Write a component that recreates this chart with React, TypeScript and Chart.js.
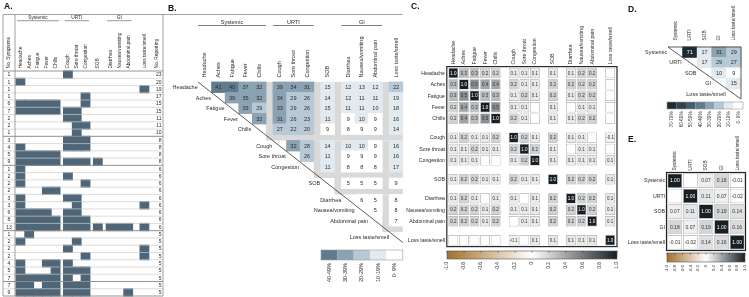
import React, { useEffect, useRef } from 'react';
import { Chart, registerables } from 'chart.js';

Chart.register(...registerables);

const CW = 749;
const CH = 297;
const FONT = '"Liberation Sans", Arial, Helvetica, sans-serif';
const INK = '#2b2b2b';

// ---------- shared categories ----------
const SYMPTOMS = ['Headache', 'Aches', 'Fatigue', 'Fever', 'Chills', 'Cough', 'Sore throat', 'Congestion', 'SOB', 'Diarrhea', 'Nausea/vomiting', 'Abdominal pain', 'Loss taste/smell'];
const SYMPTOM_GROUP = [0, 0, 0, 0, 0, 1, 1, 1, 2, 3, 3, 3, 4];
const GROUPS = ['Systemic', 'URTI', 'SOB', 'GI', 'Loss taste/smell'];
const HEADED_GROUPS = [0, 1, 3];

// ---------- Panel A: symptom combinations (H A Fa Fe Ch | Co So Cg | SOB | Di Na Ab | Loss) ----------
const A_COMBOS = [
  '00000 100 0 000 0',
  '10000 000 0 000 0',
  '00000 000 0 000 1',
  '00000 001 0 000 0',
  '11111 001 0 000 0',
  '11111 110 0 000 0',
  '00000 110 0 000 0',
  '00000 011 0 000 0',
  '00000 010 0 000 0',
  '00000 111 0 000 0',
  '10000 111 0 000 0',
  '11111 000 0 000 0',
  '11111 111 1 000 0',
  '10000 000 0 000 0',
  '10000 100 0 000 0',
  '10000 001 0 000 0',
  '00011 000 0 000 0',
  '10000 110 0 000 0',
  '10000 010 0 000 1',
  '11110 110 0 000 0',
  '11111 111 0 000 0',
  '11111 111 1 111 1',
  '01000 000 0 000 0',
  '10000 010 0 000 0',
  '00000 100 0 000 1',
  '00000 001 0 000 1',
  '10011 100 0 000 0',
  '10001 111 0 000 0',
  '11111 101 0 000 0',
  '11011 111 0 000 0',
  '11111 111 0 001 0',
];
const A_N_SYMPTOMS = [1, 1, 1, 1, 6, 7, 2, 2, 1, 3, 4, 5, 9, 1, 2, 2, 2, 3, 3, 6, 8, 13, 1, 2, 2, 2, 4, 5, 7, 7, 9];
const A_N_REPORTING = [23, 20, 19, 17, 15, 15, 11, 11, 10, 8, 8, 8, 8, 6, 6, 6, 6, 6, 6, 6, 6, 6, 5, 5, 5, 5, 5, 5, 5, 5, 5];

// ---------- Panel B: co-occurrence (upper triangle, row i vs columns i+1..) ----------
const B_COUNTS = [
  [41, 40, 37, 32, 39, 34, 31, 15, 12, 13, 12, 22],
  [39, 35, 32, 34, 29, 26, 14, 12, 11, 11, 19],
  [33, 29, 33, 29, 26, 15, 11, 11, 10, 18],
  [32, 31, 26, 23, 11, 9, 10, 9, 16],
  [27, 22, 20, 9, 8, 9, 9, 14],
  [32, 28, 14, 10, 10, 9, 16],
  [26, 11, 9, 9, 9, 16],
  [11, 8, 8, 8, 17],
  [5, 5, 5, 9],
  [6, 5, 8],
  [5, 8],
  [7],
];
const B_LEGEND = ['40-49%', '30-39%', '20-29%', '10-19%', '0- 9%'];

// ---------- Panel C: correlations between symptoms (0 = not shown) ----------
const C_CORR = [
  [1.0, 0.3, 0.3, 0.2, 0.2, 0.1, 0.1, 0.1, 0.1, 0.1, 0.2, 0.2, 0],
  [0.3, 1.0, 0.5, 0.4, 0.4, 0.2, 0.1, 0.1, 0.2, 0.2, 0.2, 0.2, 0],
  [0.3, 0.5, 1.0, 0.3, 0.3, 0.1, 0.2, 0.1, 0.2, 0.1, 0.2, 0.2, 0],
  [0.2, 0.4, 0.3, 1.0, 0.5, 0.1, 0.1, 0, 0.1, 0, 0.1, 0.1, 0],
  [0.2, 0.4, 0.3, 0.5, 1.0, 0.2, 0.1, 0, 0.1, 0.1, 0.2, 0.2, 0],
  [0.1, 0.2, 0.1, 0.1, 0.2, 1.0, 0.2, 0.1, 0.2, 0.1, 0.1, 0, -0.1],
  [0.1, 0.1, 0.2, 0.1, 0.1, 0.2, 1.0, 0.2, 0.1, 0, 0.1, 0.1, 0],
  [0.1, 0.1, 0.1, 0, 0, 0.1, 0.2, 1.0, 0.1, 0.1, 0.1, 0.1, 0.1],
  [0.1, 0.2, 0.2, 0.1, 0.1, 0.2, 0.1, 0.1, 1.0, 0.2, 0.2, 0.2, 0.1],
  [0.1, 0.2, 0.1, 0, 0.1, 0.1, 0, 0.1, 0.2, 1.0, 0.2, 0.2, 0.1],
  [0.2, 0.2, 0.2, 0.1, 0.2, 0.1, 0.1, 0.1, 0.2, 0.2, 1.0, 0.2, 0.1],
  [0.2, 0.2, 0.2, 0.1, 0.2, 0, 0.1, 0.1, 0.2, 0.2, 0.2, 1.0, 0.1],
  [0, 0, 0, 0, 0, -0.1, 0, 0.1, 0.1, 0.1, 0.1, 0.1, 1.0],
];

// ---------- Panel D: co-occurrence between symptom groups ----------
const D_COUNTS = [
  [71, 17, 31, 29],
  [17, 29, 27],
  [10, 9],
  [15],
];
const D_LEGEND = ['70-79%', '60-69%', '50-59%', '40-49%', '30-39%', '20-29%', '10-19%', '0- 9%'];

// ---------- Panel E: correlations between symptom groups (null = not shown) ----------
const E_CORR: (number | null)[][] = [
  [1.0, null, 0.07, 0.18, -0.01],
  [null, 1.0, 0.11, 0.07, -0.02],
  [0.07, 0.11, 1.0, 0.19, 0.14],
  [0.18, 0.07, 0.19, 1.0, 0.16],
  [-0.01, -0.02, 0.14, 0.16, 1.0],
];

const CORR_TICKS = ['-1.0', '-0.8', '-0.6', '-0.4', '-0.2', '0', '0.2', '0.4', '0.6', '0.8', '1.0'];

// ---------- styles ----------
const BIN_COLORS = ['#ffffff', '#e2eaef', '#b7c9d5', '#8aa2b2', '#5f7b8d', '#475c69', '#31424c', '#1d2a32'];
const binColor = (pct: number) => BIN_COLORS[Math.max(0, Math.min(7, Math.floor(pct / 10)))];
const A_BAR = '#4e6677';
const BAND = '#d9d9d9';
const POS_END = [22, 31, 36];
const NEG_END = [163, 112, 42];
function corrColor(v: number) {
  const t = Math.min(1, Math.abs(v));
  const e = v >= 0 ? POS_END : NEG_END;
  const c = e.map((k) => Math.round(255 + (k - 255) * t));
  return `rgb(${c[0]},${c[1]},${c[2]})`;
}

// ---------- drawing helpers ----------
function txt(ctx: any, s: string, x: number, y: number, size: number, align: string = 'center', color: string = INK, bold = false) {
  ctx.font = `${bold ? 'bold ' : ''}${size}px ${FONT}`;
  ctx.fillStyle = color;
  ctx.textAlign = align;
  ctx.textBaseline = 'middle';
  ctx.fillText(s, x, y);
}
function vtxt(ctx: any, s: string, x: number, y: number, size: number, align: string, color: string = INK) {
  ctx.save();
  ctx.translate(x, y);
  ctx.rotate(-Math.PI / 2);
  txt(ctx, s, 0, 0, size, align, color);
  ctx.restore();
}
function seg(ctx: any, x0: number, y0: number, x1: number, y1: number, color: string, w: number) {
  ctx.beginPath();
  ctx.moveTo(x0, y0);
  ctx.lineTo(x1, y1);
  ctx.strokeStyle = color;
  ctx.lineWidth = w;
  ctx.stroke();
}
function title(ctx: any, s: string, x: number, y: number) {
  txt(ctx, s, x, y, 8.5, 'left', '#111', true);
}
function colorbar(ctx: any, x0: number, x1: number, y0: number, y1: number, size: number) {
  const grd = ctx.createLinearGradient(x0, 0, x1, 0);
  for (let k = 0; k <= 20; k++) grd.addColorStop(k / 20, corrColor(-1 + k / 10));
  ctx.fillStyle = grd;
  ctx.fillRect(x0, y0, x1 - x0, y1 - y0);
  ctx.strokeStyle = '#555';
  ctx.lineWidth = 0.6;
  ctx.strokeRect(x0, y0, x1 - x0, y1 - y0);
  CORR_TICKS.forEach((s, i) => {
    const x = x0 + ((x1 - x0) * i) / (CORR_TICKS.length - 1);
    seg(ctx, x, y0, x, y0 + 1.6, '#333', 0.6);
    vtxt(ctx, s, x, y1 + 3, size, 'right');
  });
}
function membersOf(gi: number) {
  return SYMPTOMS.map((_, i) => i).filter((i) => SYMPTOM_GROUP[i] === gi);
}

// ---------- generic matrix chart ----------
type Cell = { x: [number, number]; y: number; fill: string; label?: string; ink?: string };
type Geo = { ctx: any; px: (u: number) => number; py: (u: number) => number; area: any };
type Spec = {
  area: [number, number, number, number];
  xRange: [number, number];
  yRange: [number, number];
  cells: Cell[];
  barPx: number;
  border?: [string, number];
  inflate?: number;
  fontPx?: number;
  under?: (g: Geo) => void;
  over?: (g: Geo) => void;
};

function geo(chart: any): Geo {
  const xs = chart.scales.x;
  const ys = chart.scales.y;
  return { ctx: chart.ctx, px: (u) => xs.getPixelForValue(u), py: (u) => ys.getPixelForValue(u), area: chart.chartArea };
}

function buildConfig(spec: Spec): any {
  const deco = {
    id: 'deco',
    beforeDatasetsDraw(chart: any) {
      if (spec.under) spec.under(geo(chart));
    },
    afterDatasetsDraw(chart: any) {
      const g = geo(chart);
      const meta = chart.getDatasetMeta(0);
      meta.data.forEach((el: any, i: number) => {
        const cell = spec.cells[i];
        if (!cell || !cell.label) return;
        txt(g.ctx, cell.label, (el.x + el.base) / 2, el.y + 0.3, spec.fontPx ?? 5, 'center', cell.ink ?? INK);
      });
      if (spec.over) spec.over(g);
    },
  };
  const [l, t, r, b] = spec.area;
  return {
    type: 'bar',
    data: {
      datasets: [
        {
          data: spec.cells,
          backgroundColor: (c: any) => (c.raw ? c.raw.fill : '#fff'),
          borderColor: spec.border ? spec.border[0] : 'rgba(0,0,0,0)',
          borderWidth: spec.border ? spec.border[1] : 0,
          borderSkipped: false,
          barThickness: spec.barPx,
          inflateAmount: spec.inflate ?? 0,
          clip: false,
        },
      ],
    },
    options: {
      indexAxis: 'y',
      animation: false,
      responsive: false,
      devicePixelRatio: 1,
      events: [],
      layout: { padding: { left: l, top: t, right: CW - r, bottom: CH - b } },
      plugins: { legend: { display: false }, tooltip: { enabled: false } },
      scales: {
        x: { type: 'linear', min: spec.xRange[0], max: spec.xRange[1], offset: false, display: false },
        y: { type: 'linear', min: spec.yRange[0], max: spec.yRange[1], offset: false, reverse: true, display: false },
      },
    },
    plugins: [deco],
  };
}

// ---------- Panel A ----------
const A_AREA: [number, number, number, number] = [3, 71, 163, 296];
const A_U = 8.8;
const A_X0 = 16;
const A_BLOCK_OFF = [0, 0.4, 0.8, 1.25, 2.09];
const A_STRONG = [9, 13, 22, 29];
const aPos = (c: number) => c + A_BLOCK_OFF[SYMPTOM_GROUP[c]];
const flags = (s: string) => s.replace(/\s/g, '').split('').map((ch) => ch === '1');

const specA: Spec = {
  area: A_AREA,
  xRange: [(A_AREA[0] - A_X0) / A_U, (A_AREA[2] - A_X0) / A_U],
  yRange: [-0.5, A_COMBOS.length - 0.5],
  barPx: (A_AREA[3] - A_AREA[1]) / A_COMBOS.length,
  inflate: 0.5,
  cells: A_COMBOS.flatMap((s, r) =>
    flags(s)
      .map((on, c) => (on ? ({ x: [aPos(c), aPos(c) + 1], y: r, fill: A_BAR } as Cell) : null))
      .filter((v) => v !== null) as Cell[]
  ),
  over: ({ ctx, px, py }) => {
    const L = A_AREA[0];
    const R = A_AREA[2];
    const T = 14.5;
    const HB = A_AREA[1];
    const B = A_AREA[3];
    for (let r = 1; r < A_COMBOS.length; r++) {
      const y = py(r - 0.5);
      const strong = A_STRONG.includes(r);
      seg(ctx, L, y, R, y, strong ? '#8f8f8f' : '#cdcdcd', strong ? 1 : 0.7);
    }
    seg(ctx, L, T, R, T, '#8a8a8a', 0.8);
    seg(ctx, L, HB, R, HB, '#8a8a8a', 0.9);
    seg(ctx, L, B, R, B, '#8a8a8a', 0.9);
    seg(ctx, L, T, L, B, '#8a8a8a', 0.8);
    seg(ctx, 15, T, 15, B, '#8a8a8a', 0.8);
    seg(ctx, R, T, R, B, '#8a8a8a', 0.8);
    HEADED_GROUPS.forEach((gi) => {
      const m = membersOf(gi);
      const x0 = px(aPos(m[0]));
      const x1 = px(aPos(m[m.length - 1]) + 1);
      txt(ctx, GROUPS[gi], (x0 + x1) / 2, 17.5, 4.8);
      seg(ctx, x0 + 1, 20.7, x1 - 1, 20.7, '#555', 0.6);
    });
    SYMPTOMS.forEach((s, c) => vtxt(ctx, s, px(aPos(c) + 0.5), 68.5, 4.8, 'left'));
    vtxt(ctx, 'No. Symptoms', 9, 68.5, 4.8, 'left');
    vtxt(ctx, 'No. Reporting', 157, 68.5, 4.8, 'left');
    A_N_SYMPTOMS.forEach((n, r) => txt(ctx, String(n), 9, py(r) + 0.3, 5));
    A_N_REPORTING.forEach((n, r) => txt(ctx, String(n), 161.5, py(r) + 0.3, 5, 'right'));
    title(ctx, 'A.', 4, 6.5);
  },
};

// ---------- Panel B ----------
const B_AREA: [number, number, number, number] = [198, 82, 402.8, 242.5];
const B_CG = 7 / 13.6;
const B_RG = 6 / 10.5;
const bCol = (c: number) => c + SYMPTOM_GROUP[c] * B_CG;
const bRow = (r: number) => r + SYMPTOM_GROUP[r] * B_RG;

const specB: Spec = {
  area: B_AREA,
  xRange: [-0.5, SYMPTOMS.length - 0.5 + 4 * B_CG],
  yRange: [-0.5, SYMPTOMS.length - 0.5 + 4 * B_RG],
  barPx: 10.5,
  inflate: 0.4,
  fontPx: 5.5,
  cells: B_COUNTS.flatMap((row, r) =>
    row.map((v, j) => {
      const c = r + 1 + j;
      return { x: [bCol(c) - 0.5, bCol(c) + 0.5], y: bRow(r), fill: binColor(v), label: String(v) } as Cell;
    })
  ),
  under: ({ ctx, px, py, area }) => {
    ctx.fillStyle = BAND;
    for (let gi = 0; gi < 4; gi++) {
      const m = membersOf(gi);
      const x0 = px(bCol(m[m.length - 1]) + 0.5);
      const y0 = py(bRow(m[0]) - 0.5);
      const y1 = py(bRow(m[m.length - 1]) + 0.5 + B_RG);
      ctx.fillRect(x0, y0, area.right - x0, y1 - y0);
    }
  },
  over: ({ ctx, px, py, area }) => {
    const { left, top, right, bottom } = area;
    seg(ctx, left, top, right, bottom, '#333', 0.8);
    const slope = (right - left) / (bottom - top);
    SYMPTOMS.forEach((s, r) => {
      const y = py(bRow(r));
      const xd = left + (y - top) * slope;
      txt(ctx, s, xd - 7, y + 0.3, 5.5, 'right');
      vtxt(ctx, s, px(bCol(r)), 77.5, 5.5, 'left');
    });
    HEADED_GROUPS.forEach((gi) => {
      const m = membersOf(gi);
      const x0 = px(bCol(m[0]) - 0.5);
      const x1 = px(bCol(m[m.length - 1]) + 0.5);
      txt(ctx, GROUPS[gi], (x0 + x1) / 2, 22, 5.5);
      seg(ctx, x0, 25.5, x1, 25.5, '#444', 0.7);
    });
    seg(ctx, 163, 14.5, right, 14.5, '#8a8a8a', 0.8);
    const lx0 = 321;
    const w = (right - lx0) / B_LEGEND.length;
    B_LEGEND.forEach((s, i) => {
      ctx.fillStyle = BIN_COLORS[4 - i];
      ctx.fillRect(lx0 + i * w, 250, w, 10);
      vtxt(ctx, s, lx0 + (i + 0.5) * w, 263, 5.5, 'right');
    });
    ctx.strokeStyle = '#999';
    ctx.lineWidth = 0.6;
    ctx.strokeRect(lx0, 250, right - lx0, 10);
    title(ctx, 'B.', 168, 8.5);
  },
};

// ---------- Panel C ----------
const C_AREA: [number, number, number, number] = [448, 67.3, 615.4, 245.9];
const C_CG = 7.4 / 10.6;
const C_RG = 7.6 / 11.4;
const cCol = (c: number) => c + SYMPTOM_GROUP[c] * C_CG;
const cRow = (r: number) => r + SYMPTOM_GROUP[r] * C_RG;

const specC: Spec = {
  area: C_AREA,
  xRange: [-0.5, SYMPTOMS.length - 0.5 + 4 * C_CG],
  yRange: [-0.5, SYMPTOMS.length - 0.5 + 4 * C_RG],
  barPx: 10.4,
  border: ['#a0a0a0', 0.7],
  fontPx: 4.5,
  cells: C_CORR.flatMap((row, r) =>
    row.map((v, c) => ({
      x: [cCol(c) - 0.46, cCol(c) + 0.46],
      y: cRow(r),
      fill: corrColor(v),
      label: v ? v.toFixed(1) : '',
      ink: v >= 0.7 ? '#ffffff' : '#333',
    }) as Cell)
  ),
  over: ({ ctx, px, py }) => {
    ctx.strokeStyle = '#2a2a2a';
    ctx.lineWidth = 1.2;
    ctx.strokeRect(446.8, 66.6, 617 - 446.8, 246.6 - 66.6);
    SYMPTOMS.forEach((s, i) => {
      txt(ctx, s, 445, py(cRow(i)) + 0.3, 5.2, 'right');
      vtxt(ctx, s, px(cCol(i)), 64.5, 5.2, 'left');
    });
    colorbar(ctx, 447, 617, 251, 259, 4.8);
    title(ctx, 'C.', 411, 7);
  },
};

// ---------- Panel D ----------
const D_AREA: [number, number, number, number] = [668, 47, 741, 99];
const specD: Spec = {
  area: D_AREA,
  xRange: [-0.5, GROUPS.length - 0.5],
  yRange: [-0.5, GROUPS.length - 0.5],
  barPx: 10.4,
  inflate: 0.4,
  fontPx: 5.5,
  cells: D_COUNTS.flatMap((row, r) =>
    row.map((v, j) => {
      const c = r + 1 + j;
      return { x: [c - 0.5, c + 0.5], y: r, fill: binColor(v), label: String(v), ink: v >= 50 ? '#ffffff' : INK } as Cell;
    })
  ),
  over: ({ ctx, px, py, area }) => {
    const { left, top, right, bottom } = area;
    ctx.beginPath();
    ctx.moveTo(left, top);
    ctx.lineTo(right, top);
    ctx.lineTo(right, bottom);
    ctx.closePath();
    ctx.strokeStyle = '#333';
    ctx.lineWidth = 0.8;
    ctx.stroke();
    const slope = (right - left) / (bottom - top);
    GROUPS.forEach((s, i) => {
      const y = py(i);
      const xd = left + (y - top) * slope;
      txt(ctx, s, xd - 8, y + 0.3, 5.5, 'right');
      vtxt(ctx, s, px(i), 40.5, 4.8, 'left');
    });
    const lx0 = 667;
    const lx1 = 743;
    const w = (lx1 - lx0) / D_LEGEND.length;
    D_LEGEND.forEach((s, i) => {
      ctx.fillStyle = BIN_COLORS[7 - i];
      ctx.fillRect(lx0 + i * w, 102, w, 7);
      vtxt(ctx, s, lx0 + (i + 0.5) * w, 111.5, 4.6, 'right');
    });
    ctx.strokeStyle = '#999';
    ctx.lineWidth = 0.6;
    ctx.strokeRect(lx0, 102, lx1 - lx0, 7);
    title(ctx, 'D.', 628, 10);
  },
};

// ---------- Panel E ----------
const E_AREA: [number, number, number, number] = [667, 173, 745, 250];
const specE: Spec = {
  area: E_AREA,
  xRange: [-0.5, GROUPS.length - 0.5],
  yRange: [-0.5, GROUPS.length - 0.5],
  barPx: 14.4,
  border: ['#a0a0a0', 0.7],
  fontPx: 5,
  cells: E_CORR.flatMap((row, r) =>
    row.map((v, c) => ({
      x: [c - 0.47, c + 0.47],
      y: r,
      fill: corrColor(v ?? 0),
      label: v === null ? '' : v.toFixed(2),
      ink: (v ?? 0) >= 0.7 ? '#ffffff' : '#333',
    }) as Cell)
  ),
  over: ({ ctx, px, py, area }) => {
    ctx.strokeStyle = '#222';
    ctx.lineWidth = 1.2;
    ctx.strokeRect(area.left - 0.5, area.top - 0.5, area.right - area.left + 1, area.bottom - area.top + 1);
    GROUPS.forEach((s, i) => {
      txt(ctx, s, 665, py(i) + 0.3, 5.2, 'right');
      vtxt(ctx, s, px(i), 170.5, 4.8, 'left');
    });
    colorbar(ctx, 667, 745, 253, 262, 4.4);
    title(ctx, 'E.', 628, 140);
  },
};

const SPECS: Spec[] = [specA, specB, specC, specD, specE];

function Panel({ spec }: { spec: Spec }) {
  const ref = useRef<HTMLCanvasElement>(null);
  useEffect(() => {
    const chart = new Chart(ref.current as HTMLCanvasElement, buildConfig(spec));
    return () => chart.destroy();
  }, [spec]);
  return (
    <canvas
      ref={ref}
      width={CW}
      height={CH}
      style={{ position: 'absolute', left: 0, top: 0, width: CW, height: CH }}
    />
  );
}

export default function App() {
  return (
    <div style={{ position: 'fixed', left: 0, top: 0, width: CW, height: CH, background: '#ffffff', overflow: 'hidden' }}>
      {SPECS.map((s, i) => (
        <Panel key={i} spec={s} />
      ))}
    </div>
  );
}
